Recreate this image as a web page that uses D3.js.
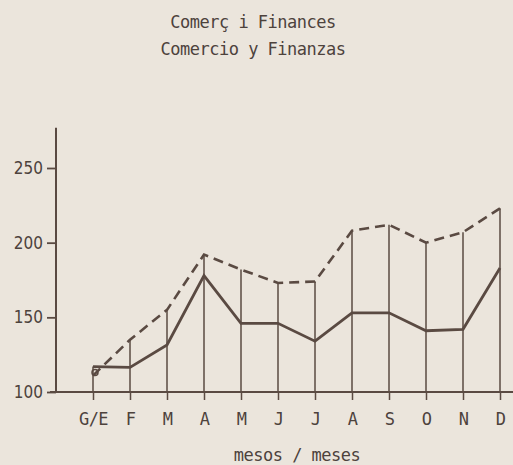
<!DOCTYPE html>
<html lang="ca">
<head>
<meta charset="UTF-8">
<title>Comerç i Finances</title>
<script src="https://d3js.org/d3.v7.min.js"></script>
<style>
  body { margin:0; background:#ebe5dc; }
  svg { display:block; }
</style>
</head>
<body>
<svg id="chart" width="513" height="465"></svg>
<script>
// dades
var mesos = ['G/E','F','M','A','M','J','J','A','S','O','N','D'];
var serieContinua = [117, 116.5, 131.5, 178, 146, 146, 134, 153, 153, 141, 142, 183];
var serieDiscontinua = [111, 135, 155, 192, 182, 173, 174, 208, 212, 200, 207, 223];
var ticksY = [100, 150, 200, 250];
var titol = ['Comerç i Finances', 'Comercio y Finanzas'];
var titolX = 'mesos / meses';

var width = 513, height = 465;
var ink = '#5a4a42';
var textInk = '#4d423c';
var mono = '"DejaVu Sans Mono", "Liberation Mono", monospace';

var svg = d3.select('#chart');

svg.append('rect')
    .attr('width', width)
    .attr('height', height)
    .attr('fill', '#ebe5dc');

var x = d3.scaleLinear()
    .domain([0, mesos.length - 1])
    .range([93, 500]);

var y = d3.scaleLinear()
    .domain([100, 250])
    .range([392, 168]);

// títols
svg.selectAll('.titol')
    .data(titol)
    .enter()
    .append('text')
    .attr('class', 'titol')
    .attr('x', 253)
    .attr('y', function (d, i) { return 28 + i * 27; })
    .attr('text-anchor', 'middle')
    .attr('font-family', mono)
    .attr('font-size', '17px')
    .attr('letter-spacing', '-0.5px')
    .attr('fill', textInk)
    .text(function (d) { return d; });

// línies verticals fins al valor màxim
svg.selectAll('.vert')
    .data(mesos)
    .enter()
    .append('line')
    .attr('class', 'vert')
    .attr('x1', function (d, i) { return x(i); })
    .attr('x2', function (d, i) { return x(i); })
    .attr('y1', y(100))
    .attr('y2', function (d, i) { return y(Math.max(serieContinua[i], serieDiscontinua[i])); })
    .attr('stroke', ink)
    .attr('stroke-width', 1.5);

// eix Y
var yAxis = d3.axisLeft(y)
    .tickValues(ticksY)
    .tickSize(9)
    .tickPadding(4);

var gy = svg.append('g')
    .attr('transform', 'translate(56,0)')
    .call(yAxis);
gy.select('.domain').remove();
gy.selectAll('line').attr('stroke', ink).attr('stroke-width', 1.8);
gy.selectAll('text')
    .attr('font-family', '"DejaVu Sans Condensed", "DejaVu Sans", sans-serif')
    .attr('font-size', '17px')
    .attr('fill', textInk);

svg.append('line')
    .attr('x1', 56).attr('x2', 56)
    .attr('y1', y(100)).attr('y2', y(277))
    .attr('stroke', ink)
    .attr('stroke-width', 2);

// eix X
var xAxis = d3.axisBottom(x)
    .tickValues(d3.range(mesos.length))
    .tickFormat(function (i) { return mesos[i]; })
    .tickSize(8)
    .tickPadding(13);

var gx = svg.append('g')
    .attr('transform', 'translate(0,' + y(100) + ')')
    .call(xAxis);
gx.select('.domain').remove();
gx.selectAll('line').attr('stroke', ink).attr('stroke-width', 1.5);
gx.selectAll('text')
    .attr('font-family', mono)
    .attr('font-size', '17px')
    .attr('letter-spacing', '-0.5px')
    .attr('fill', textInk);

svg.append('line')
    .attr('x1', 50).attr('x2', width)
    .attr('y1', y(100)).attr('y2', y(100))
    .attr('stroke', ink)
    .attr('stroke-width', 2);

svg.append('text')
    .attr('x', 297)
    .attr('y', 461)
    .attr('text-anchor', 'middle')
    .attr('font-family', mono)
    .attr('font-size', '17px')
    .attr('letter-spacing', '-0.5px')
    .attr('fill', textInk)
    .text(titolX);

// línies de dades
var line = d3.line()
    .x(function (d, i) { return x(i); })
    .y(function (d) { return y(d); });

svg.append('path')
    .datum(serieDiscontinua)
    .attr('d', line)
    .attr('fill', 'none')
    .attr('stroke', ink)
    .attr('stroke-width', 2.6)
    .attr('stroke-dasharray', '10,6');

svg.append('circle')
    .attr('cx', x(0) + 2)
    .attr('cy', y(serieDiscontinua[0]) - 3)
    .attr('r', 3)
    .attr('fill', 'none')
    .attr('stroke', ink)
    .attr('stroke-width', 1.5);

svg.append('path')
    .datum(serieContinua)
    .attr('d', line)
    .attr('fill', 'none')
    .attr('stroke', ink)
    .attr('stroke-width', 2.8)
    .attr('stroke-linejoin', 'miter');
</script>
</body>
</html>
